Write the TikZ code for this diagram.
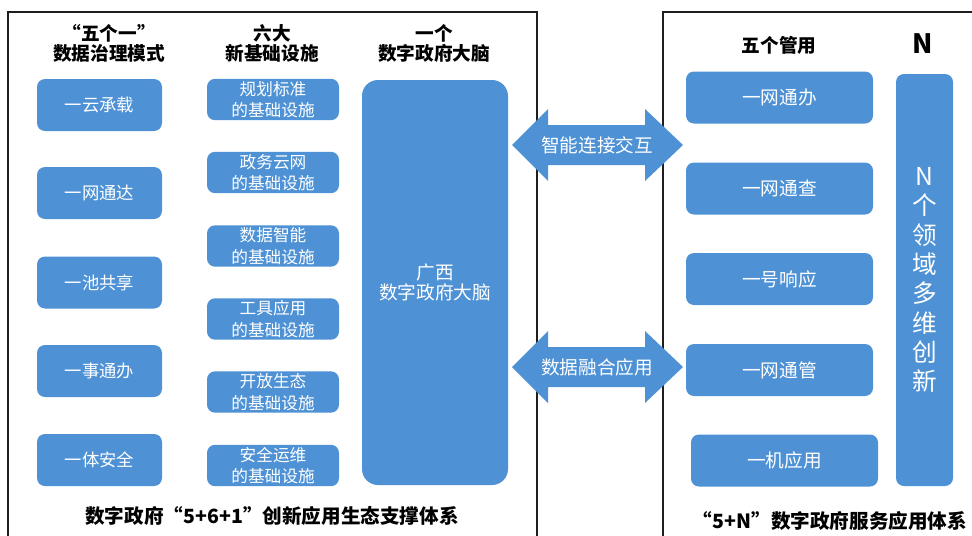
\documentclass[tikz,border=0pt]{standalone}
\usepackage{fontspec}
\setmainfont{Noto Sans CJK SC}

\definecolor{kasten}{RGB}{78,146,213}
\definecolor{rahmen}{RGB}{30,30,30}

\begin{document}
\begin{tikzpicture}[x=0.75pt,y=-0.75pt,
	kopf/.style={font=\bfseries\fontsize{14}{15}\selectfont,align=center,inner sep=0},
	fuss/.style={font=\bfseries\fontsize{14.7}{17}\selectfont,inner sep=0},
	feld/.style={fill=kasten,text=white,rounded corners=6pt,align=center,inner sep=0},
	modus/.style={feld,minimum width=93.75pt,minimum height=39pt,font=\fontsize{13}{15}\selectfont},
	basis/.style={feld,minimum width=99pt,minimum height=31pt,font=\fontsize{12.5}{16}\selectfont},
	dienst/.style={feld,minimum width=140.25pt,minimum height=39pt,font=\fontsize{14}{16}\selectfont},
	pfeiltext/.style={text=white,font=\fontsize{14}{16}\selectfont,inner sep=0}]

\useasboundingbox (0,0) rectangle (972,536);
\clip (0,0) rectangle (972,536);
\fill[white] (0,0) rectangle (972,536);

\def\pfeil#1#2#3{
	\fill[color=kasten] (512,#1) -- (548,#1-36) -- (548,#1-20) -- (645,#1-20) -- (645,#1-36)
		-- (683,#1) -- (645,#1+36) -- (645,#1+20) -- (548,#1+20) -- (548,#1+36) -- cycle;
	\node (#2) at (597,#1) [pfeiltext] {#3};
}

\draw[line width=1.5pt,color=rahmen] (8,545) -- (8,12) -- (537,12) -- (537,545);
\draw[line width=1.5pt,color=rahmen] (663,545) -- (663,12) -- (985,12);

\node (k1) at (109,43) [kopf] {“五个一”\\数据治理模式};
\node (k2) at (272,43) [kopf] {六大\\新基础设施};
\node (k3) at (434,43) [kopf] {一个\\数字政府大脑};
\node (k4) at (779,45) [kopf] {五个管用};
\node (k5) at (923,44) [kopf,font=\bfseries\fontsize{20}{22}\selectfont] {N};

\node (m1) at (99.5,105) [modus] {一云承载};
\node (m2) at (99.5,193) [modus] {一网通达};
\node (m3) at (99.5,282.5) [modus] {一池共享};
\node (m4) at (99.5,371) [modus] {一事通办};
\node (m5) at (99.5,460) [modus] {一体安全};

\node (b1) at (273,99.5) [basis] {规划标准\\的基础设施};
\node (b2) at (273,172.5) [basis] {政务云网\\的基础设施};
\node (b3) at (273,246) [basis] {数据智能\\的基础设施};
\node (b4) at (273,319) [basis] {工具应用\\的基础设施};
\node (b5) at (273,392) [basis] {开放生态\\的基础设施};
\node (b6) at (273,465.5) [basis] {安全运维\\的基础设施};

\node (hirn) at (435,282.5) [feld,rounded corners=12pt,minimum width=109.5pt,minimum height=303.75pt,
	font=\fontsize{14}{15}\selectfont] {广西\\数字政府大脑};

\node (d1) at (779.5,97.5) [dienst] {一网通办};
\node (d2) at (779.5,188.5) [dienst] {一网通查};
\node (d3) at (779.5,279) [dienst] {一号响应};
\node (d4) at (779.5,370) [dienst] {一网通管};
\node (d5) at (784.5,460.5) [dienst] {一机应用};

\node (n) at (924.5,280) [feld,minimum width=42.75pt,minimum height=309pt,
	font=\fontsize{18.5}{22}\selectfont] {N\\个\\领\\域\\多\\维\\创\\新};

\pfeil{145}{p1}{智能连接交互}
\pfeil{367}{p2}{数据融合应用}

\node (f1) at (272,516) [fuss] {数字政府“5+6+1”创新应用生态支撑体系};
\node (f2) at (830,521) [fuss] {“5+N”数字政府服务应用体系};

\end{tikzpicture}
\end{document}
